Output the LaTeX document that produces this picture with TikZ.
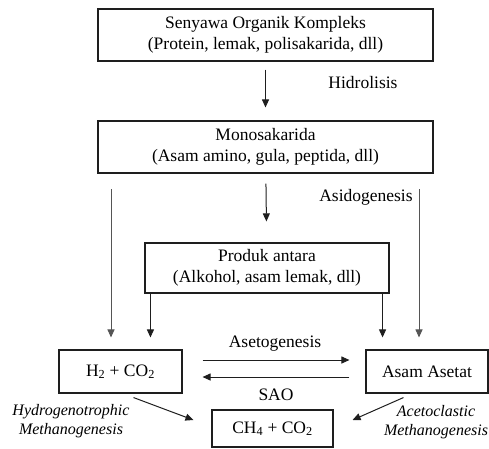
\documentclass[tikz,border=0pt]{standalone}
\usepackage{fontspec}
\setmainfont{Liberation Serif}
\usetikzlibrary{arrows.meta,calc,positioning}
\definecolor{linedark}{RGB}{30,30,30}
\definecolor{linegrey}{RGB}{85,85,85}
\tikzset{
  >={Triangle[length=8pt,width=7pt]},
  flow/.style={-{Triangle[length=8pt,width=7pt]}, line width=1pt, draw=linedark},
  flowsoft/.style={flow, draw=linegrey},
  box/.style={
    draw=linedark,
    line width=1.1pt,
    fill=white,
    align=center,
    inner sep=0pt,
    font=\fontsize{17.5}{21}\selectfont
  },
  steplabel/.style={font=\fontsize{17.5}{21}\selectfont, align=center},
  sidelabel/.style={font=\fontsize{16}{19}\selectfont\itshape, align=center}
}
\begin{document}
\begin{tikzpicture}[x=1pt,y=-1pt]
  \useasboundingbox (0,0) rectangle (489,448);

  \node[box,minimum width=335pt,minimum height=52pt] (senyawa) at (265.5,35)
    {Senyawa Organik Kompleks\\(Protein, lemak, polisakarida, dll)};
  \node[box,minimum width=335pt,minimum height=52pt] (mono) at (265.5,147)
    {Monosakarida\\(Asam amino, gula, peptida, dll)};
  \node[box,minimum width=244pt,minimum height=50pt] (produk) at (267,268)
    {Produk antara\\(Alkohol, asam lemak, dll)};
  \node[box,minimum width=123pt,minimum height=43pt] (hidrogen) at (120.5,371.5)
    {H\textsubscript{2} + CO\textsubscript{2}};
  \node[box,minimum width=122pt,minimum height=43pt] (asetat) at (427,371.5)
    {Asam Asetat};
  \node[box,minimum width=121pt,minimum height=37pt] (metana) at (272.5,428.5)
    {CH\textsubscript{4} + CO\textsubscript{2}};

  % labels of the steps
  \node[steplabel] (hidrolisis) at (363,83) {Hidrolisis};
  \node[steplabel] (asidogenesis) at (366,197) {Asidogenesis};
  \node[steplabel] (asetogenesis) at (275,344) {Asetogenesis};
  \node[steplabel] (sao) at (276,395) {SAO};
  \node[sidelabel] (hydro) at (71,421) {Hydrogenotrophic\\Methanogenesis};
  \node[sidelabel] (aceto) at (436,422) {Acetoclastic\\Methanogenesis};

  \draw[flow,shorten <=8pt,shorten >=13pt] (senyawa) -- (mono);
  \draw[flow,shorten <=10pt,shorten >=21pt] (mono) -- (produk);

  % side routes past the intermediate products
  \coordinate (lefttop) at (111,189);
  \coordinate (righttop) at (419,189);
  \draw[flowsoft,shorten >=12pt] (lefttop) -- (lefttop |- hidrogen.north);
  \draw[flowsoft,shorten >=12pt] (righttop) -- (righttop |- asetat.north);
  \draw[flow,shorten >=12pt] ([xshift=6pt]produk.south west)
    -- ([xshift=6pt]produk.south west |- hidrogen.north);
  \draw[flow,shorten >=12pt] ([xshift=-7pt]produk.south east)
    -- ([xshift=-7pt]produk.south east |- asetat.north);

  \draw[flow,shorten <=20pt,shorten >=16pt] ([yshift=11.5pt]hidrogen.east)
    -- ([yshift=11.5pt]hidrogen.east -| asetat.west);
  \draw[flow,shorten <=16pt,shorten >=20pt] ([yshift=-5.5pt]asetat.west)
    -- ([yshift=-5.5pt]asetat.west -| hidrogen.east);

  \draw[flow] ([shift={(-49,4)}]hidrogen.south east) -- ([shift={(-18,-8.5)}]metana.west);
  \draw[flow] ([shift={(38,4)}]asetat.south west) -- ([shift={(19,-8.5)}]metana.east);
\end{tikzpicture}
\end{document}
